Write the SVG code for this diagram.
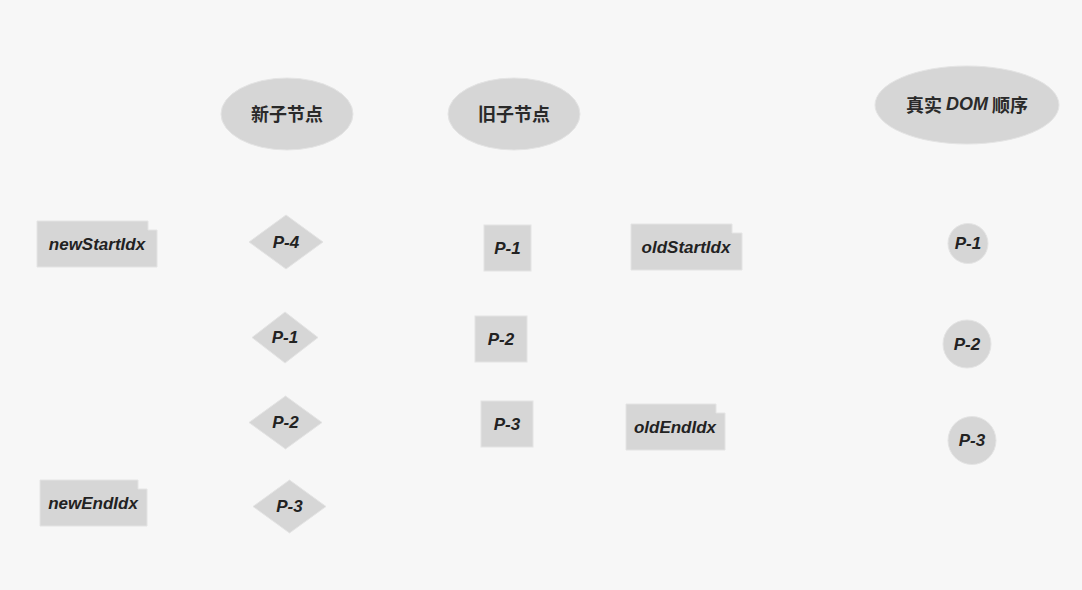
<svg xmlns="http://www.w3.org/2000/svg" width="1082" height="590" viewBox="0 0 1082 590">
<style>
.bg{fill:#f7f7f7}
.s{fill:#d6d6d6;stroke:#e4e4e4;stroke-width:1}
.t{font-family:"Liberation Sans",Arial,sans-serif;font-weight:bold;font-style:italic;font-size:17px;fill:#222;text-anchor:middle;dominant-baseline:central}
.c{font-family:"Noto Sans CJK SC","Liberation Sans",sans-serif;font-weight:bold;font-size:18px;fill:#2a2a2a;text-anchor:middle;dominant-baseline:central}
.i{font-family:"Liberation Sans",Arial,sans-serif;font-style:italic;font-size:18px}
</style>
<rect class="bg" x="0" y="0" width="1082" height="590"/>
<g id="connectors"></g>
<g id="head-new"><ellipse class="s" cx="287" cy="114" rx="66" ry="36"/><text class="c" x="287" y="113">新子节点</text></g>
<g id="head-old"><ellipse class="s" cx="514" cy="114" rx="66" ry="36"/><text class="c" x="514" y="113">旧子节点</text></g>
<g id="head-dom"><ellipse class="s" cx="967" cy="105" rx="92" ry="39"/><text class="c" x="967" y="104">真实 <tspan class="i">DOM</tspan> 顺序</text></g>

<g id="newStartIdx"><polygon class="s" points="37,221 148,221 148,230 157,230 157,267 37,267"/><text class="t" x="97" y="244">newStartIdx</text></g>
<g id="newEndIdx"><polygon class="s" points="40,480 138,480 138,489 147,489 147,526 40,526"/><text class="t" x="93" y="503">newEndIdx</text></g>
<g id="oldStartIdx"><polygon class="s" points="631,224 732,224 732,233 742,233 742,270 631,270"/><text class="t" x="686" y="247">oldStartIdx</text></g>
<g id="oldEndIdx"><polygon class="s" points="626,404 716,404 716,413 725,413 725,450 626,450"/><text class="t" x="675" y="427">oldEndIdx</text></g>

<g id="new-p4"><polygon class="s" points="286,215 323,242 286,269 249,242"/><text class="t" x="286" y="242">P-4</text></g>
<g id="new-p1"><polygon class="s" points="285,312 318,337.5 285,363 252,337.5"/><text class="t" x="285" y="337">P-1</text></g>
<g id="new-p2"><polygon class="s" points="285.5,396 322,422.5 285.5,449 249,422.5"/><text class="t" x="285.5" y="422">P-2</text></g>
<g id="new-p3"><polygon class="s" points="289.5,480 326,506.5 289.5,533 253,506.5"/><text class="t" x="289.5" y="506">P-3</text></g>

<g id="old-p1"><rect class="s" x="484" y="225" width="47" height="46"/><text class="t" x="507.5" y="248">P-1</text></g>
<g id="old-p2"><rect class="s" x="475" y="316" width="52" height="46"/><text class="t" x="501" y="339">P-2</text></g>
<g id="old-p3"><rect class="s" x="481" y="401" width="52" height="46"/><text class="t" x="507" y="424">P-3</text></g>

<g id="dom-p1"><circle class="s" cx="968" cy="243.5" r="20"/><text class="t" x="968" y="243">P-1</text></g>
<g id="dom-p2"><circle class="s" cx="967" cy="344" r="24"/><text class="t" x="967" y="344">P-2</text></g>
<g id="dom-p3"><circle class="s" cx="972" cy="440.5" r="24"/><text class="t" x="972" y="440">P-3</text></g>
</svg>
